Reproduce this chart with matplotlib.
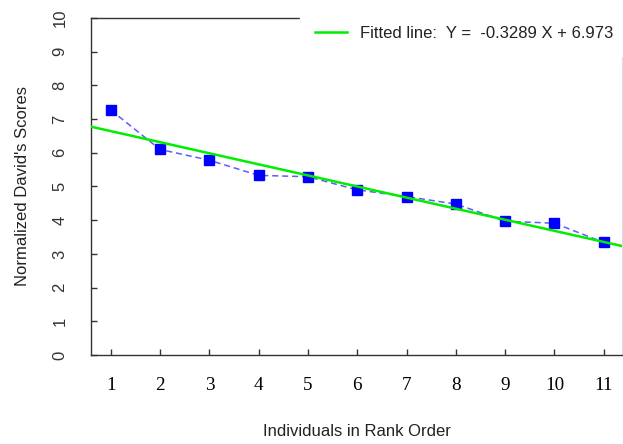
import matplotlib
matplotlib.use("Agg")
import matplotlib.pyplot as plt
import numpy as np

ranks = [1, 2, 3, 4, 5, 6, 7, 8, 9, 10, 11]
scores = [7.27, 6.10, 5.78, 5.33, 5.29, 4.90, 4.70, 4.48, 3.97, 3.91, 3.34]
slope = -0.3289
intercept = 6.973
yticks = [0, 1, 2, 3, 4, 5, 6, 7, 8, 9, 10]

fig = plt.figure(figsize=(6.23, 4.44), dpi=100)
ax = fig.add_axes([91/623, 89/444, 531/623, 337/444])

xlim = (0.6, 11.37)
ax.set_xlim(*xlim)
ax.set_ylim(0, 10)

ax.plot(ranks, scores, linestyle=(0, (4, 2.5)), color="#5c5cff", lw=1.1, zorder=3)
ax.plot(ranks, scores, linestyle="none", marker="s", ms=6.5, color="#0000ff",
        markeredgecolor="#0000ff", zorder=4)
xx = np.array(xlim)
ax.plot(xx, slope * xx + intercept, color="#00ee00", lw=1.8, zorder=5,
        label=f"Fitted line:  Y =  {slope} X + {intercept}")

for s in ["left", "bottom", "top"]:
    ax.spines[s].set_color("#333333")
    ax.spines[s].set_linewidth(1.0)
ax.spines["right"].set_color("#dddddd")
ax.spines["right"].set_linewidth(0.8)

ax.set_xticks(ranks)
ax.set_xticklabels([str(r) for r in ranks], family="Liberation Serif", fontsize=13.8)
ax.set_yticks(yticks)
ax.set_yticklabels([str(v) for v in yticks], family="Liberation Sans", fontsize=12,
                   rotation=90, va="center", color="#333333")
ax.tick_params(axis="x", direction="in", length=4.5, width=1, color="#333333", pad=16)
ax.tick_params(axis="y", direction="in", length=4.5, width=1, color="#333333", pad=17)

ax.set_xlabel("Individuals in Rank Order", family="Liberation Sans", fontsize=12,
              color="#222222", labelpad=21.5)
ax.set_ylabel("Normalized David's Scores", family="Liberation Sans", fontsize=12,
              color="#222222", labelpad=16)

leg = ax.legend(loc="upper right", bbox_to_anchor=(1.012, 1.02), frameon=True,
                fancybox=False, framealpha=1, facecolor="white", edgecolor="white",
                prop={"family": "Liberation Sans", "size": 12}, handlelength=1.9,
                handletextpad=0.8, borderpad=0.9, borderaxespad=0.0)
leg.set_zorder(10)
for t in leg.get_texts():
    t.set_color("#222222")

fig.savefig("out.png", dpi=100)
